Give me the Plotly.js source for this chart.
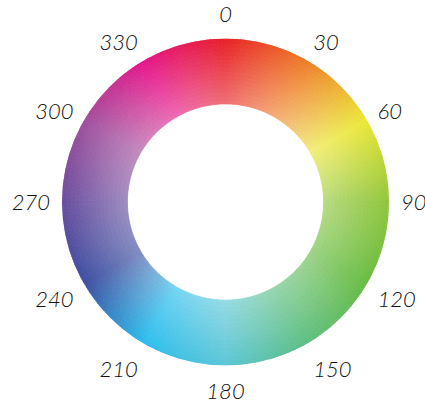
<!DOCTYPE html>
<html>
<head>
<meta charset="utf-8">
<script src="https://cdn.plot.ly/plotly-3.0.1.min.js"></script>
<style>html,body{margin:0;padding:0;background:#fff;}#chart{width:425px;height:405px;}</style>
</head>
<body>
<div id="chart"></div>
<script>
// Colour stops around the wheel (outer edge), degrees clockwise from top
const hueAngles = [0, 30, 60, 90, 120, 150, 180, 210, 240, 270, 300, 330, 360];
const hueColors = ['#e8232a', '#ef7f2c', '#ece73a', '#92c73f', '#6abd45', '#60bf83', '#5ec7d6',
                   '#2ebfee', '#3f51a2', '#6b50a0', '#a2519e', '#e6198b', '#e8232a'];
// Angular tick labels
const tickAngles = [0, 30, 60, 90, 120, 150, 180, 210, 240, 270, 300, 330];
const tickLabels = ['0', '30', '60', '90', '120', '150', '180', '210', '240', '270', '300', '330'];
// Ring extent (fraction of outer radius)
const innerRadius = 0.6;
const outerRadius = 1.0;
const innerWhiteMix = 0.34;

function hexToRgb(h) {
  return [parseInt(h.slice(1, 3), 16), parseInt(h.slice(3, 5), 16), parseInt(h.slice(5, 7), 16)];
}
function mixWhite(h, f) {
  const c = hexToRgb(h).map(v => Math.round(v + (255 - v) * f));
  return 'rgb(' + c.join(',') + ')';
}

const thetas = [];
for (let a = 0; a < 360; a++) thetas.push(a);

const nLayers = 16;
const dr = (outerRadius - innerRadius) / nLayers;
const traces = [];
for (let k = 0; k < nLayers; k++) {
  const t = k / (nLayers - 1);
  const f = innerWhiteMix * (1 - t);
  const cs = hueAngles.map((a, i) => [a / 360, mixWhite(hueColors[i], f)]);
  traces.push({
    type: 'barpolar',
    theta: thetas,
    r: thetas.map(() => dr),
    base: innerRadius + k * dr,
    width: 1,
    marker: {
      color: thetas, colorscale: cs, cmin: 0, cmax: 360,
      line: {color: thetas, colorscale: cs, cmin: 0, cmax: 360, width: 0.8}
    },
    hoverinfo: 'skip',
    showlegend: false
  });
}

const layout = {
  width: 425, height: 405,
  margin: {l: 61.5, r: 35.5, t: 38, b: 39},
  paper_bgcolor: '#ffffff',
  showlegend: false,
  polar: {
    bgcolor: 'rgba(0,0,0,0)',
    barmode: 'overlay',
    radialaxis: {visible: false, range: [0, outerRadius]},
    angularaxis: {
      rotation: 90, direction: 'clockwise',
      tickmode: 'array', tickvals: tickAngles, ticktext: tickLabels,
      showgrid: false, showline: false,
      ticks: 'outside', ticklen: 7, tickcolor: 'rgba(0,0,0,0)',
      tickfont: {family: 'Lato', size: 22, color: '#111111', style: 'italic', weight: 300}
    }
  }
};

Plotly.newPlot('chart', traces, layout, {displayModeBar: false, staticPlot: true});
</script>
</body>
</html>
